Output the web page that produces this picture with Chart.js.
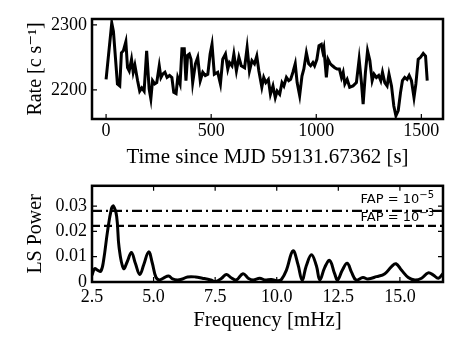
<!DOCTYPE html>
<html>
<head>
<meta charset="utf-8">
<script src="https://cdn.jsdelivr.net/npm/chart.js@4.4.0/dist/chart.umd.min.js"></script>
<style>
  html, body { margin: 0; padding: 0; background: #fff; }
  #wrap { position: relative; width: 463px; height: 348px; }
  #top { position: absolute; left: 0; top: 0; }
  #bot { position: absolute; left: 0; top: 170px; }
</style>
</head>
<body>
<div id="wrap">
  <canvas id="top" width="463" height="170"></canvas>
  <canvas id="bot" width="463" height="178"></canvas>
</div>
<script>
// light curve (time since MJD 59131.67362 in s, rate in c/s)
var times = [0, 27, 35, 54, 65, 73, 82, 94, 102, 110, 121, 129, 137, 150, 160, 170, 181, 193, 205, 213,
  221, 231, 241, 253, 261, 269, 280, 290, 302, 313, 322, 333, 341, 352, 361, 372, 380, 388, 396, 404,
  412, 425, 436, 448, 460, 472, 484, 495, 504, 515, 531, 544, 555, 568, 579, 587, 599, 608, 620, 632,
  643, 659, 671, 682, 694, 706, 717, 727, 741, 750, 760, 772, 782, 794, 805, 814, 826, 837, 846, 858,
  869, 878, 889, 900, 909, 921, 932, 941, 953, 964, 973, 984, 992, 1003, 1013, 1024, 1031, 1036, 1048, 1056,
  1067, 1077, 1088, 1099, 1110, 1120, 1128, 1136, 1147, 1159, 1175, 1191, 1204, 1215, 1223, 1234, 1244, 1255, 1266, 1275,
  1286, 1297, 1307, 1315, 1326, 1337, 1346, 1358, 1369, 1379, 1390, 1401, 1410, 1421, 1432, 1442, 1453, 1465, 1474, 1485,
  1496, 1509, 1520, 1528];
var rates = [2216, 2303, 2290, 2209, 2206, 2257, 2260, 2274, 2234, 2229, 2247, 2227, 2238, 2214, 2198, 2203, 2198, 2260, 2201, 2186,
  2214, 2209, 2211, 2237, 2219, 2224, 2227, 2219, 2222, 2219, 2196, 2194, 2219, 2209, 2263, 2263, 2214, 2253, 2255, 2247,
  2211, 2240, 2250, 2214, 2227, 2222, 2224, 2255, 2270, 2224, 2227, 2209, 2247, 2255, 2232, 2242, 2237, 2255, 2229, 2250,
  2237, 2234, 2265, 2229, 2245, 2240, 2252, 2229, 2204, 2219, 2211, 2216, 2193, 2206, 2188, 2198, 2193, 2211, 2206, 2219,
  2214, 2216, 2227, 2240, 2211, 2191, 2221, 2232, 2257, 2240, 2237, 2242, 2237, 2247, 2268, 2270, 2259, 2265, 2219, 2247,
  2240, 2237, 2234, 2232, 2232, 2219, 2227, 2209, 2216, 2204, 2206, 2211, 2247, 2211, 2178, 2227, 2260, 2245, 2214, 2224,
  2219, 2222, 2214, 2227, 2211, 2206, 2224, 2206, 2175, 2160, 2168, 2196, 2214, 2219, 2216, 2222, 2214, 2188, 2209, 2247,
  2250, 2256, 2252, 2214];

// Lomb-Scargle periodogram
var freqs = [2.5, 2.61, 2.72, 2.86, 2.97, 3.13, 3.29, 3.37, 3.5, 3.6, 3.78, 3.93, 4.1, 4.26, 4.44, 4.6, 4.8, 4.95, 5.09, 5.23,
  5.4, 5.61, 5.77, 5.97, 6.17, 6.38, 6.7, 6.98, 7.32, 7.52, 7.75, 7.95, 8.15, 8.36, 8.63, 8.84, 9.04, 9.31, 9.51, 9.78,
  10.05, 10.19, 10.39, 10.66, 10.86, 11.03, 11.2, 11.41, 11.61, 11.75, 11.95, 12.15, 12.35, 12.47, 12.66, 12.86, 13.04, 13.22, 13.5, 13.7,
  14.05, 14.39, 14.66, 14.84, 15.07, 15.34, 15.61, 15.88, 16.15, 16.36, 16.56, 16.75];
var power = [0.0027, 0.0053, 0.0047, 0.0043, 0.0085, 0.020, 0.029, 0.030, 0.026, 0.0136, 0.0053, 0.008, 0.0117, 0.0074, 0.003, 0.0068, 0.0119, 0.0074, 0.002, 0.0008,
  0.0015, 0.0024, 0.0012, 0.0008, 0.0012, 0.002, 0.002, 0.0015, 0.0008, 0.0002, 0.0014, 0.003, 0.0017, 0.0008, 0.0033, 0.0015, 0.0008, 0.0015, 0.0008, 0.001,
  0.0005, 0.001, 0.0046, 0.0123, 0.007, 0.0008, 0.0064, 0.0108, 0.0064, 0.0008, 0.0058, 0.0085, 0.0033, 0.0008, 0.0046, 0.0074, 0.0038, 0.0008, 0.0018, 0.0012,
  0.0021, 0.0033, 0.0061, 0.0072, 0.0046, 0.0018, 0.0008, 0.0015, 0.0036, 0.0027, 0.0015, 0.0033];

// false alarm probability levels
var fapLevels = [0.0281, 0.0222];
var fapExp = ['\u22125', '\u22123'];

var timeTicks = [0, 500, 1000, 1500];
var rateTicks = [2200, 2300];
var freqTicks = [2.5, 5.0, 7.5, 10.0, 12.5, 15.0];
var powerTicks = [0, 0.01, 0.02, 0.03];

Chart.defaults.font.family = "'Liberation Serif', 'DejaVu Serif', serif";
Chart.defaults.color = '#000';
Chart.defaults.animation = false;

function pts(xs, ys) {
  return xs.map(function (x, i) { return { x: x, y: ys[i] }; });
}

// box round the plot and inward tick marks
var framePlugin = {
  id: 'frame',
  afterDatasetsDraw: function (chart, args, opts) {
    var a = chart.chartArea, ctx = chart.ctx;
    var xs = chart.scales.x, ys = chart.scales.y;
    ctx.save();
    ctx.strokeStyle = '#000';
    ctx.lineWidth = 1.2;
    ctx.beginPath();
    xs.ticks.forEach(function (t) {
      var px = xs.getPixelForValue(t.value);
      ctx.moveTo(px, a.bottom); ctx.lineTo(px, a.bottom - 5);
      if (opts.all) { ctx.moveTo(px, a.top); ctx.lineTo(px, a.top + 5); }
    });
    ys.ticks.forEach(function (t) {
      var py = ys.getPixelForValue(t.value);
      ctx.moveTo(a.left, py); ctx.lineTo(a.left + 5, py);
      if (opts.all) { ctx.moveTo(a.right, py); ctx.lineTo(a.right - 5, py); }
    });
    ctx.stroke();
    ctx.lineWidth = 2.5;
    ctx.strokeRect(a.left, a.top, a.right - a.left, a.bottom - a.top);
    ctx.restore();
  }
};

// "FAP = 10^x" text over the threshold lines
var fapText = {
  id: 'fapText',
  afterDraw: function (chart) {
    var ctx = chart.ctx, xs = chart.scales.x, ys = chart.scales.y;
    var offs = [8, 5];
    ctx.save();
    ctx.fillStyle = '#000';
    ctx.textBaseline = 'alphabetic';
    fapLevels.forEach(function (lv, i) {
      var right = xs.getPixelForValue(xs.max) - 9;
      var base = ys.getPixelForValue(lv) - offs[i];
      ctx.font = "10px 'DejaVu Sans'";
      var wSup = ctx.measureText(fapExp[i]).width;
      ctx.font = "13px 'DejaVu Sans'";
      var main = 'FAP = 10';
      var wMain = ctx.measureText(main).width;
      var x0 = right - wSup - wMain;
      ctx.fillText(main, x0, base);
      ctx.font = "10px 'DejaVu Sans'";
      ctx.fillText(fapExp[i], x0 + wMain, base - 5);
    });
    ctx.restore();
  }
};

function fixTicks(list) {
  return function (s) { s.ticks = list.map(function (v) { return { value: v }; }); };
}

new Chart(document.getElementById('top'), {
  type: 'line',
  data: {
    datasets: [{
      data: pts(times, rates),
      borderColor: '#000',
      borderWidth: 3,
      pointRadius: 0,
      tension: 0,
      fill: false
    }]
  },
  options: {
    responsive: false,
    layout: { padding: { left: 0, right: 20, top: 19, bottom: 0 } },
    plugins: { legend: { display: false }, tooltip: { enabled: false }, frame: { all: false } },
    scales: {
      x: {
        type: 'linear', min: -67, max: 1603,
        grid: { display: false, drawTicks: false },
        border: { display: false },
        afterBuildTicks: fixTicks(timeTicks),
        afterFit: function (s) { s.height = 51; },
        ticks: { font: { size: 18 }, color: '#000', padding: 1, maxRotation: 0, autoSkip: false,
          callback: function (v) { return String(v); } },
        title: { display: true, text: 'Time since MJD 59131.67362 [s]', font: { size: 21 }, color: '#000', padding: { top: 0, bottom: 0 } }
      },
      y: {
        type: 'linear', min: 2155, max: 2309,
        grid: { display: false, drawTicks: false },
        border: { display: false },
        afterBuildTicks: fixTicks(rateTicks),
        afterFit: function (s) { s.width = 92; },
        ticks: { font: { size: 18 }, color: '#000', padding: 5,
          callback: function (v) { return String(v); } },
        title: { display: true, text: 'Rate [c s\u207B\u00B9]', font: { size: 20 }, color: '#000', padding: { top: 24, bottom: 0 } }
      }
    }
  },
  plugins: [framePlugin]
});

new Chart(document.getElementById('bot'), {
  type: 'line',
  data: {
    datasets: [{
      data: pts(freqs, power),
      borderColor: '#000',
      borderWidth: 3,
      pointRadius: 0,
      tension: 0.4,
      fill: false
    }, {
      data: pts([2.5, 16.75], [fapLevels[0], fapLevels[0]]),
      borderColor: '#000',
      borderWidth: 2.2,
      borderDash: [10, 4, 2, 4],
      pointRadius: 0,
      fill: false
    }, {
      data: pts([2.5, 16.75], [fapLevels[1], fapLevels[1]]),
      borderColor: '#000',
      borderWidth: 2.2,
      borderDash: [8, 4],
      pointRadius: 0,
      fill: false
    }]
  },
  options: {
    responsive: false,
    layout: { padding: { left: 0, right: 20, top: 13, bottom: 0 } },
    plugins: { legend: { display: false }, tooltip: { enabled: false }, frame: { all: true } },
    scales: {
      x: {
        type: 'linear', min: 2.5, max: 16.75,
        grid: { display: false, drawTicks: false },
        border: { display: false },
        afterBuildTicks: fixTicks(freqTicks),
        afterFit: function (s) { s.height = 66; },
        ticks: { font: { size: 18 }, color: '#000', padding: 4, maxRotation: 0, autoSkip: false,
          callback: function (v) { return v.toFixed(1); } },
        title: { display: true, text: 'Frequency [mHz]', font: { size: 21 }, color: '#000', padding: { top: 0, bottom: 15 } }
      },
      y: {
        type: 'linear', min: 0, max: 0.038,
        grid: { display: false, drawTicks: false },
        border: { display: false },
        afterBuildTicks: fixTicks(powerTicks),
        afterFit: function (s) { s.width = 92; },
        ticks: { font: { size: 18 }, color: '#000', padding: 5,
          callback: function (v) { return v === 0 ? '0' : v.toFixed(2); } },
        title: { display: true, text: 'LS Power', font: { size: 20 }, color: '#000', padding: { top: 24, bottom: 0 } }
      }
    }
  },
  plugins: [framePlugin, fapText]
});
</script>
</body>
</html>
